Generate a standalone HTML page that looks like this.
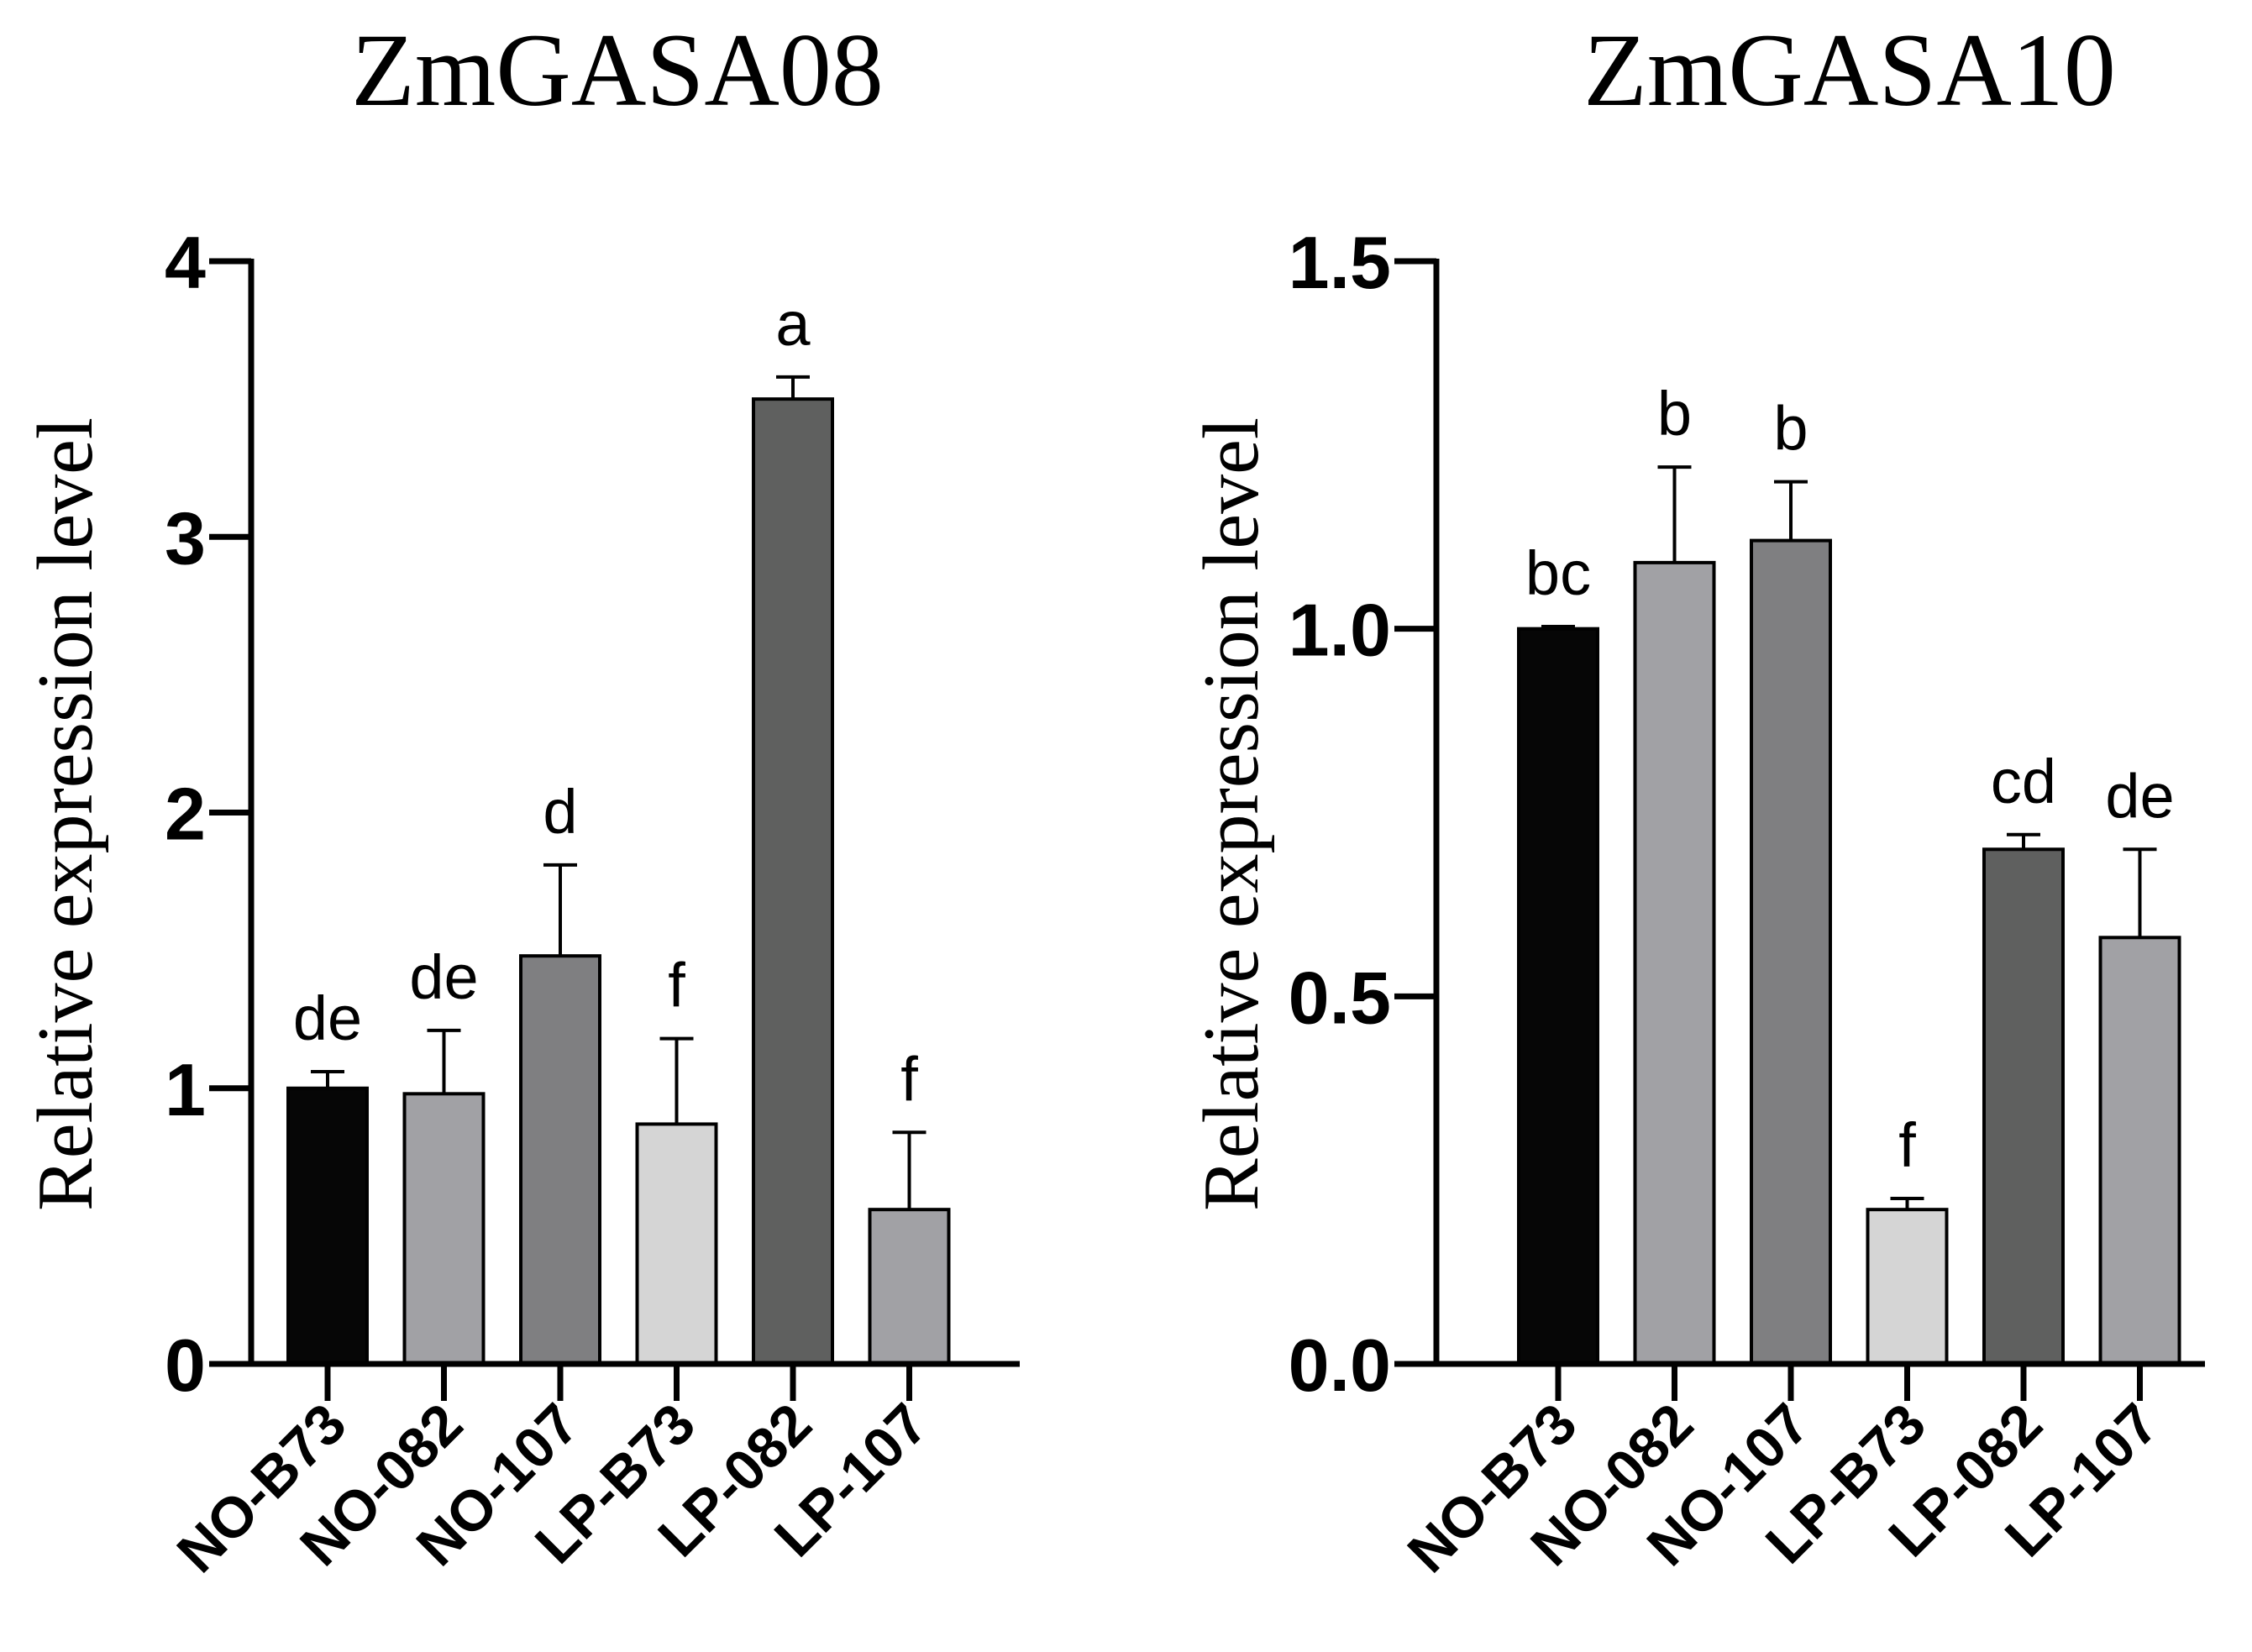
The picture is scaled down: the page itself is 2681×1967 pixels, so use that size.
<!DOCTYPE html>
<html><head><meta charset="utf-8"><style>
html,body{margin:0;padding:0;background:#fff;}
svg{display:block;}
</style></head><body>
<svg id="fig" width="2681" height="1967" viewBox="0 0 2681 1967" xmlns="http://www.w3.org/2000/svg"></svg>
<script>
const categories = ["NO-B73","NO-082","NO-107","LP-B73","LP-082","LP-107"];
const values08 = [1.0, 0.98, 1.48, 0.87, 3.50, 0.56];
const errTop08 = [1.06, 1.21, 1.81, 1.18, 3.58, 0.84];
const letters08 = ["de","de","d","f","a","f"];
const ticks08 = [0,1,2,3,4];
const tickLabels08 = ["0","1","2","3","4"];
const values10 = [1.0, 1.09, 1.12, 0.21, 0.70, 0.58];
const errTop10 = [1.003, 1.22, 1.20, 0.225, 0.72, 0.70];
const letters10 = ["bc","b","b","f","cd","de"];
const ticks10 = [0,0.5,1.0,1.5];
const tickLabels10 = ["0.0","0.5","1.0","1.5"];
const colors = ["#060606","#a1a1a5","#7f7f81","#d5d5d5","#5f605f","#a1a1a5"];

const NS="http://www.w3.org/2000/svg";
const svg=document.getElementById('fig');
function mk(tag,attrs,parent){const e=document.createElementNS(NS,tag);for(const k in attrs)e.setAttribute(k,attrs[k]);(parent||svg).appendChild(e);return e;}

function drawChart(opt){
  const g=mk('g',{});
  
  
  const y0=1624,yTop=311;
  const yScale=v=>y0-(v/opt.max)*(y0-yTop);
  const xScale=i=>opt.firstX+i*opt.step;
  const bw=94;
  const t=mk('text',{x:opt.titleX,y:125,'font-family':'"Liberation Serif",serif','font-size':124,'text-anchor':'middle',fill:'#000'},g);
  t.textContent=opt.title;
  
  
  const yt=mk('text',{x:0,y:0,'font-family':'"Liberation Serif",serif','font-size':94,'text-anchor':'middle',fill:'#000',transform:`translate(${opt.yTitleX},${(y0+yTop)/2+2}) rotate(-90)`},g);
  yt.textContent="Relative expression level";
  
  
  opt.values.forEach((v,i)=>{
    const cx=xScale(i);
    const eb=mk('path',{d:`M${cx},${yScale(v)} V${yScale(opt.err[i])} M${cx-20},${yScale(opt.err[i])} H${cx+20}`,stroke:'#000','stroke-width':4,fill:'none'},g);
    
    
    const r=mk('rect',{x:cx-bw/2,y:yScale(v),width:bw,height:y0-yScale(v),fill:colors[i],stroke:'#000','stroke-width':4},g);
    
    
    const l=mk('text',{x:cx,y:yScale(opt.err[i])-38,'font-family':'"Liberation Sans",sans-serif','font-size':74,'text-anchor':'middle',fill:'#000'},g);
    l.textContent=opt.letters[i];
    
    
    const tk=mk('line',{x1:cx,y1:y0,x2:cx,y2:y0+44,stroke:'#000','stroke-width':7},g);
    
    
    const xl=mk('text',{x:0,y:0,'font-family':'"Liberation Sans",sans-serif','font-weight':'bold','font-size':68,'text-anchor':'end',fill:'#000',transform:`translate(${cx+26},${y0+76}) rotate(-45)`},g);
    xl.textContent=categories[i];
    
    
  });
  const ax=mk('path',{d:`M${opt.axisX},${yTop-3} V${y0} H${opt.axisEnd}`,stroke:'#000','stroke-width':7,fill:'none'},g);
  
  
  opt.ticks.forEach((tv,i)=>{
    const y=yScale(tv);
    const tk=mk('line',{x1:opt.axisX-50,y1:y,x2:opt.axisX,y2:y,stroke:'#000','stroke-width':7},g);
    
    
    const tl=mk('text',{x:opt.axisX-54,y:y+32,'font-family':'"Liberation Sans",sans-serif','font-weight':'bold','font-size':88,'text-anchor':'end',fill:'#000'},g);
    tl.textContent=opt.tickLabels[i];
    
    
  });
}
drawChart({name:'chart-zmgasa08',title:'ZmGASA08',titleX:735,yTitleX:109,axisX:299,axisEnd:1214,firstX:390,step:138.5,max:4,values:values08,err:errTop08,letters:letters08,ticks:ticks08,tickLabels:tickLabels08});
drawChart({name:'chart-zmgasa10',title:'ZmGASA10',titleX:2202,yTitleX:1497,axisX:1710,axisEnd:2625,firstX:1855,step:138.5,max:1.5,values:values10,err:errTop10,letters:letters10,ticks:ticks10,tickLabels:tickLabels10});
</script>
</body></html>
